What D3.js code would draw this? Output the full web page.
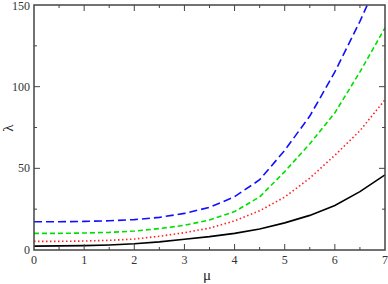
<!DOCTYPE html>
<html lang="en">
<head>
  <meta charset="UTF-8">
  <title>lambda vs mu</title>
  <script src="https://d3js.org/d3.v7.min.js"></script>
  <style>
    body {
      margin: 0;
      background: #fff;
    }
    svg {
      display: block;
    }
    .tick-label {
      font-family: "Liberation Serif", "DejaVu Serif", serif;
      font-size: 12px;
      fill: #333;
    }
    .axis-title {
      font-family: "Liberation Serif", "DejaVu Serif", serif;
      font-size: 15px;
      fill: #222;
    }
  </style>
</head>
<body>

<div id="chart"></div>

<script>
  const mu = [0, 0.5, 1, 1.5, 2, 2.5, 3, 3.5, 4, 4.5, 5, 5.5, 6, 6.5, 7];
  const blackLine = [2.4, 2.5, 2.7, 3.1, 3.8, 5.0, 6.6, 8.2, 10.2, 12.9, 16.6, 21.2, 27.2, 35.7, 46];
  const redLine   = [5.3, 5.3, 5.5, 5.9, 6.7, 8.4, 10.6, 13.4, 17.8, 24, 32.4, 44, 58, 73, 92];
  const greenLine = [10.2, 10.2, 10.4, 10.8, 11.6, 13.1, 15.1, 18.4, 23.5, 32.5, 48, 65, 84, 109, 136];
  const blueLine  = [17.3, 17.3, 17.5, 17.9, 18.6, 20.0, 22.4, 26.1, 32.6, 43, 61, 82, 109, 140, 174];

  const xTicks = [0, 1, 2, 3, 4, 5, 6, 7];
  const yTicks = [0, 50, 100, 150];

  const width = 388, height = 284;
  const plotLeft = 34, plotRight = 385, plotTop = 5, plotBottom = 250;

  const x = d3.scaleLinear().domain([0, 7]).range([plotLeft, plotRight]);
  const y = d3.scaleLinear().domain([0, 150]).range([plotBottom, plotTop]);

  const svg = d3.select("#chart")
                .append("svg")
                .attr("width", width)
                .attr("height", height);

  svg.append("clipPath")
     .attr("id", "plot-clip")
     .append("rect")
     .attr("x", plotLeft)
     .attr("y", plotTop)
     .attr("width", plotRight - plotLeft)
     .attr("height", plotBottom - plotTop);

  // curves
  const series = [
    {values: blackLine, color: "#000000", dash: null, w: 1.6},
    {values: redLine, color: "#ff2020", dash: "1.5,2.5", w: 1.6},
    {values: greenLine, color: "#00e000", dash: "5,3", w: 1.6},
    {values: blueLine, color: "#1010ff", dash: "8,4", w: 1.6}
  ];

  const line = d3.line()
                 .x((d, i) => x(mu[i]))
                 .y(d => y(d));

  svg.append("g")
     .attr("clip-path", "url(#plot-clip)")
     .selectAll("path")
     .data(series)
     .join("path")
     .attr("d", d => line(d.values))
     .attr("fill", "none")
     .attr("stroke", d => d.color)
     .attr("stroke-width", d => d.w)
     .attr("stroke-dasharray", d => d.dash);

  // frame with inward ticks on all four sides
  const frame = svg.append("g").attr("stroke", "#444");

  frame.append("rect")
       .attr("x", plotLeft)
       .attr("y", plotTop)
       .attr("width", plotRight - plotLeft)
       .attr("height", plotBottom - plotTop)
       .attr("fill", "none")
       .attr("stroke-width", 1.5);

  const xMinor = d3.range(0.5, 7, 1);
  const yMinor = [25, 75, 125];

  function xTickMarks(vals, len) {
    frame.selectAll(null).data(vals).join("line")
         .attr("x1", d => x(d)).attr("x2", d => x(d))
         .attr("y1", plotBottom).attr("y2", plotBottom - len)
         .attr("stroke-width", 1);
    frame.selectAll(null).data(vals).join("line")
         .attr("x1", d => x(d)).attr("x2", d => x(d))
         .attr("y1", plotTop).attr("y2", plotTop + len)
         .attr("stroke-width", 1);
  }
  function yTickMarks(vals, len) {
    frame.selectAll(null).data(vals).join("line")
         .attr("x1", plotLeft).attr("x2", plotLeft + len)
         .attr("y1", d => y(d)).attr("y2", d => y(d))
         .attr("stroke-width", 1);
    frame.selectAll(null).data(vals).join("line")
         .attr("x1", plotRight).attr("x2", plotRight - len)
         .attr("y1", d => y(d)).attr("y2", d => y(d))
         .attr("stroke-width", 1);
  }
  xTickMarks(xTicks.slice(1, -1), 6);
  xTickMarks(xMinor, 3);
  yTickMarks(yTicks.slice(1, -1), 6);
  yTickMarks(yMinor, 3);

  // tick labels
  svg.selectAll(".xl")
     .data(xTicks)
     .join("text")
     .attr("class", "tick-label")
     .attr("x", d => x(d))
     .attr("y", plotBottom + 14)
     .attr("text-anchor", "middle")
     .text(d => d);

  svg.selectAll(".yl")
     .data(yTicks)
     .join("text")
     .attr("class", "tick-label")
     .attr("x", plotLeft - 4)
     .attr("y", d => Math.max(y(d) + 4, 10))
     .attr("text-anchor", "end")
     .text(d => d);

  // axis titles
  svg.append("text")
     .attr("class", "axis-title")
     .attr("x", 207)
     .attr("y", 280)
     .attr("text-anchor", "middle")
     .text("μ");

  svg.append("text")
     .attr("class", "axis-title")
     .attr("transform", "translate(13,128) rotate(-90)")
     .attr("text-anchor", "middle")
     .text("λ");
</script>

</body>
</html>
